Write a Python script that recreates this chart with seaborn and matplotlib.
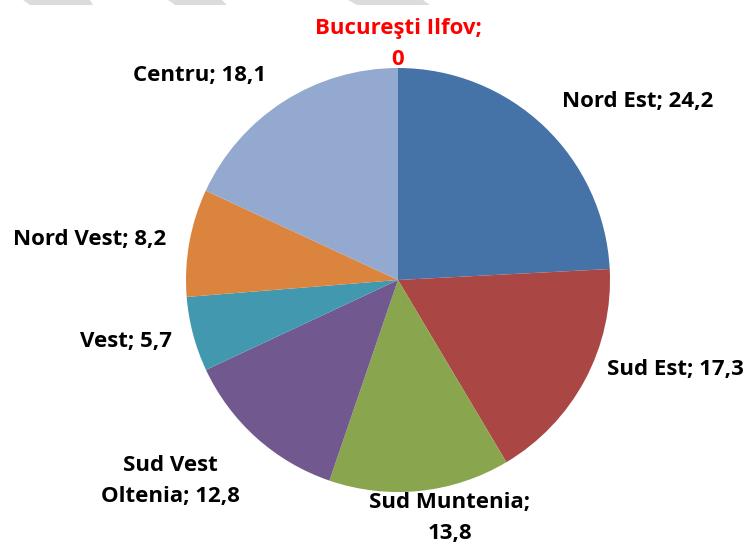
import matplotlib
matplotlib.use("Agg")
import matplotlib.pyplot as plt
from matplotlib.patches import Polygon
import seaborn as sns

# Regional shares (%)
regions = ["Nord Est", "Sud Est", "Sud Muntenia", "Sud Vest Oltenia",
           "Vest", "Nord Vest", "Centru", "Bucureşti Ilfov"]
shares = [24.2, 17.3, 13.8, 12.8, 5.7, 8.2, 18.1, 0.0]
colors = ["#4572A7", "#AA4643", "#89A54E", "#71588F",
          "#4198AF", "#DB843D", "#93A9CF", "#4572A7"]

# label text layout (line breaks) and anchor positions in pixels from top-left
label_fmt = ["{n}; {v}", "{n}; {v}", "{n};\n{v}", "Sud Vest\nOltenia; {v}",
             "{n}; {v}", "{n}; {v}", "{n}; {v}", "{n};\n{v}"]
label_pos = [(638, 101), (675, 369), (450, 518), (170, 481),
             (126, 342), (90, 240), (200, 75), (398, 44)]
label_color = ["black"] * 7 + ["#FF0000"]

sns.set_theme(style="white")
plt.rcParams["font.family"] = ["Open Sans", "DejaVu Sans"]

W, H = 747, 546
fig = plt.figure(figsize=(W / 100, H / 100), dpi=100)
ax = fig.add_axes([0, 0, 1, 1])

# decorative grey slanted tabs along the top edge
for x0, x1, b0, b1 in [(23, 90, 30, 93), (168, 222, 175, 227), (348, 423, 357, 430)]:
    fig.patches.append(Polygon([(x0, H), (x1, H), (b1, H - 5), (b0, H - 5)],
                               closed=True, transform=None,
                               facecolor="#DCDCDC", edgecolor="none"))

cx, cy, r = 398, H - 280, 212
ax.pie(shares, colors=colors, startangle=90, counterclock=False,
       center=(cx, cy), radius=r, frame=True,
       wedgeprops=dict(linewidth=0))
ax.set_xlim(0, W)
ax.set_ylim(0, H)
ax.set_aspect("equal")
ax.axis("off")

for name, val, fmt, (px, py), col in zip(regions, shares, label_fmt, label_pos, label_color):
    txt = fmt.format(n=name, v=f"{val:g}".replace(".", ","))
    ax.text(px, H - py, txt, ha="center", va="center", fontsize=16,
            fontweight="bold", color=col, linespacing=1.6)

fig.savefig("out.png", dpi=100)
